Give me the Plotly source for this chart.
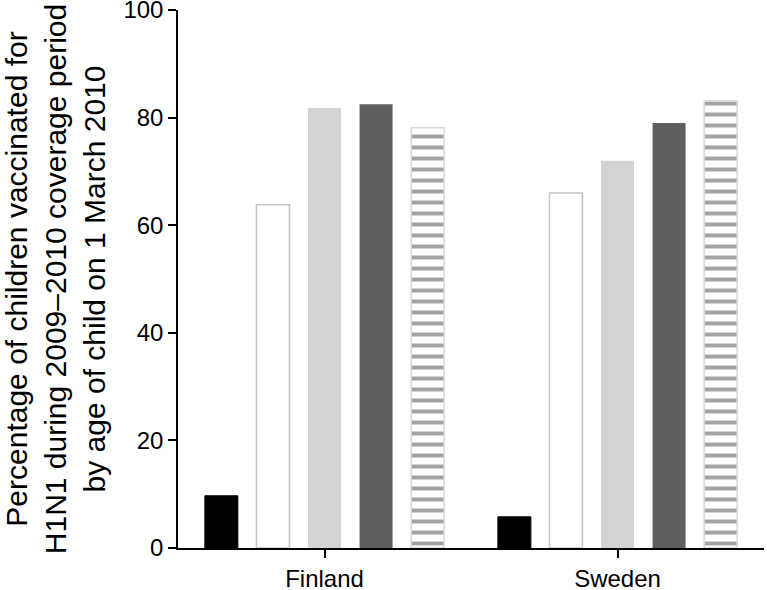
import plotly.graph_objects as go

countries = ["Finland", "Sweden"]
series_names = ["Group 1", "Group 2", "Group 3", "Group 4", "Group 5"]
values = {
    "Group 1": [9.7, 5.8],
    "Group 2": [63.8, 66.0],
    "Group 3": [81.8, 72.0],
    "Group 4": [82.5, 79.0],
    "Group 5": [78.1, 83.1],
}
y_ticks = [0, 20, 40, 60, 80, 100]

styles = {
    "Group 1": dict(color="#000000", line=dict(color="#000000", width=1)),
    "Group 2": dict(color="#ffffff", line=dict(color="#c4c4c4", width=1.5)),
    "Group 3": dict(color="#d3d3d3", line=dict(color="#d3d3d3", width=0)),
    "Group 4": dict(color="#5f5f5f", line=dict(color="#5f5f5f", width=0)),
    "Group 5": dict(color="#ffffff", line=dict(color="#d8d8d8", width=1.5),
                    pattern=dict(shape="-", fgcolor="#a3a3a3", bgcolor="#ffffff",
                                 size=11, solidity=0.36, fillmode="replace")),
}

fig = go.Figure()
for name in series_names:
    fig.add_trace(go.Bar(x=countries, y=values[name], name=name, marker=styles[name],
                         cliponaxis=False))

fig.update_layout(
    width=767, height=590,
    barmode="group", bargap=0.12, bargroupgap=0.36,
    showlegend=False,
    plot_bgcolor="white", paper_bgcolor="white",
    margin=dict(l=178, r=3, t=10, b=42),
    font=dict(family="Liberation Sans, Arial, sans-serif", color="#000000"),
)
fig.update_xaxes(
    range=[-0.5, 1.5], showline=True, linecolor="#000000", linewidth=1.5,
    ticks="outside", ticklen=8, tickcolor="#000000", tickwidth=1.5,
    tickfont=dict(size=24), showgrid=False, zeroline=False, automargin=False,
    ticklabeloverflow="allow",
)
fig.update_yaxes(
    range=[0, 100], tickvals=y_ticks, showline=True, linecolor="#000000", linewidth=1.5,
    ticks="outside", ticklen=8, tickcolor="#000000", tickwidth=1.5,
    tickfont=dict(size=24), showgrid=False, zeroline=False, automargin=False,
    ticklabeloverflow="allow",
    title=dict(text="Percentage of children vaccinated for<br>H1N1 during 2009\u20132010 coverage period<br>by age of child on 1 March 2010",
               font=dict(size=30), standoff=29),
)
fig.write_html("out.html", config={"displayModeBar": False},
               post_script="document.body.style.margin='0';")
